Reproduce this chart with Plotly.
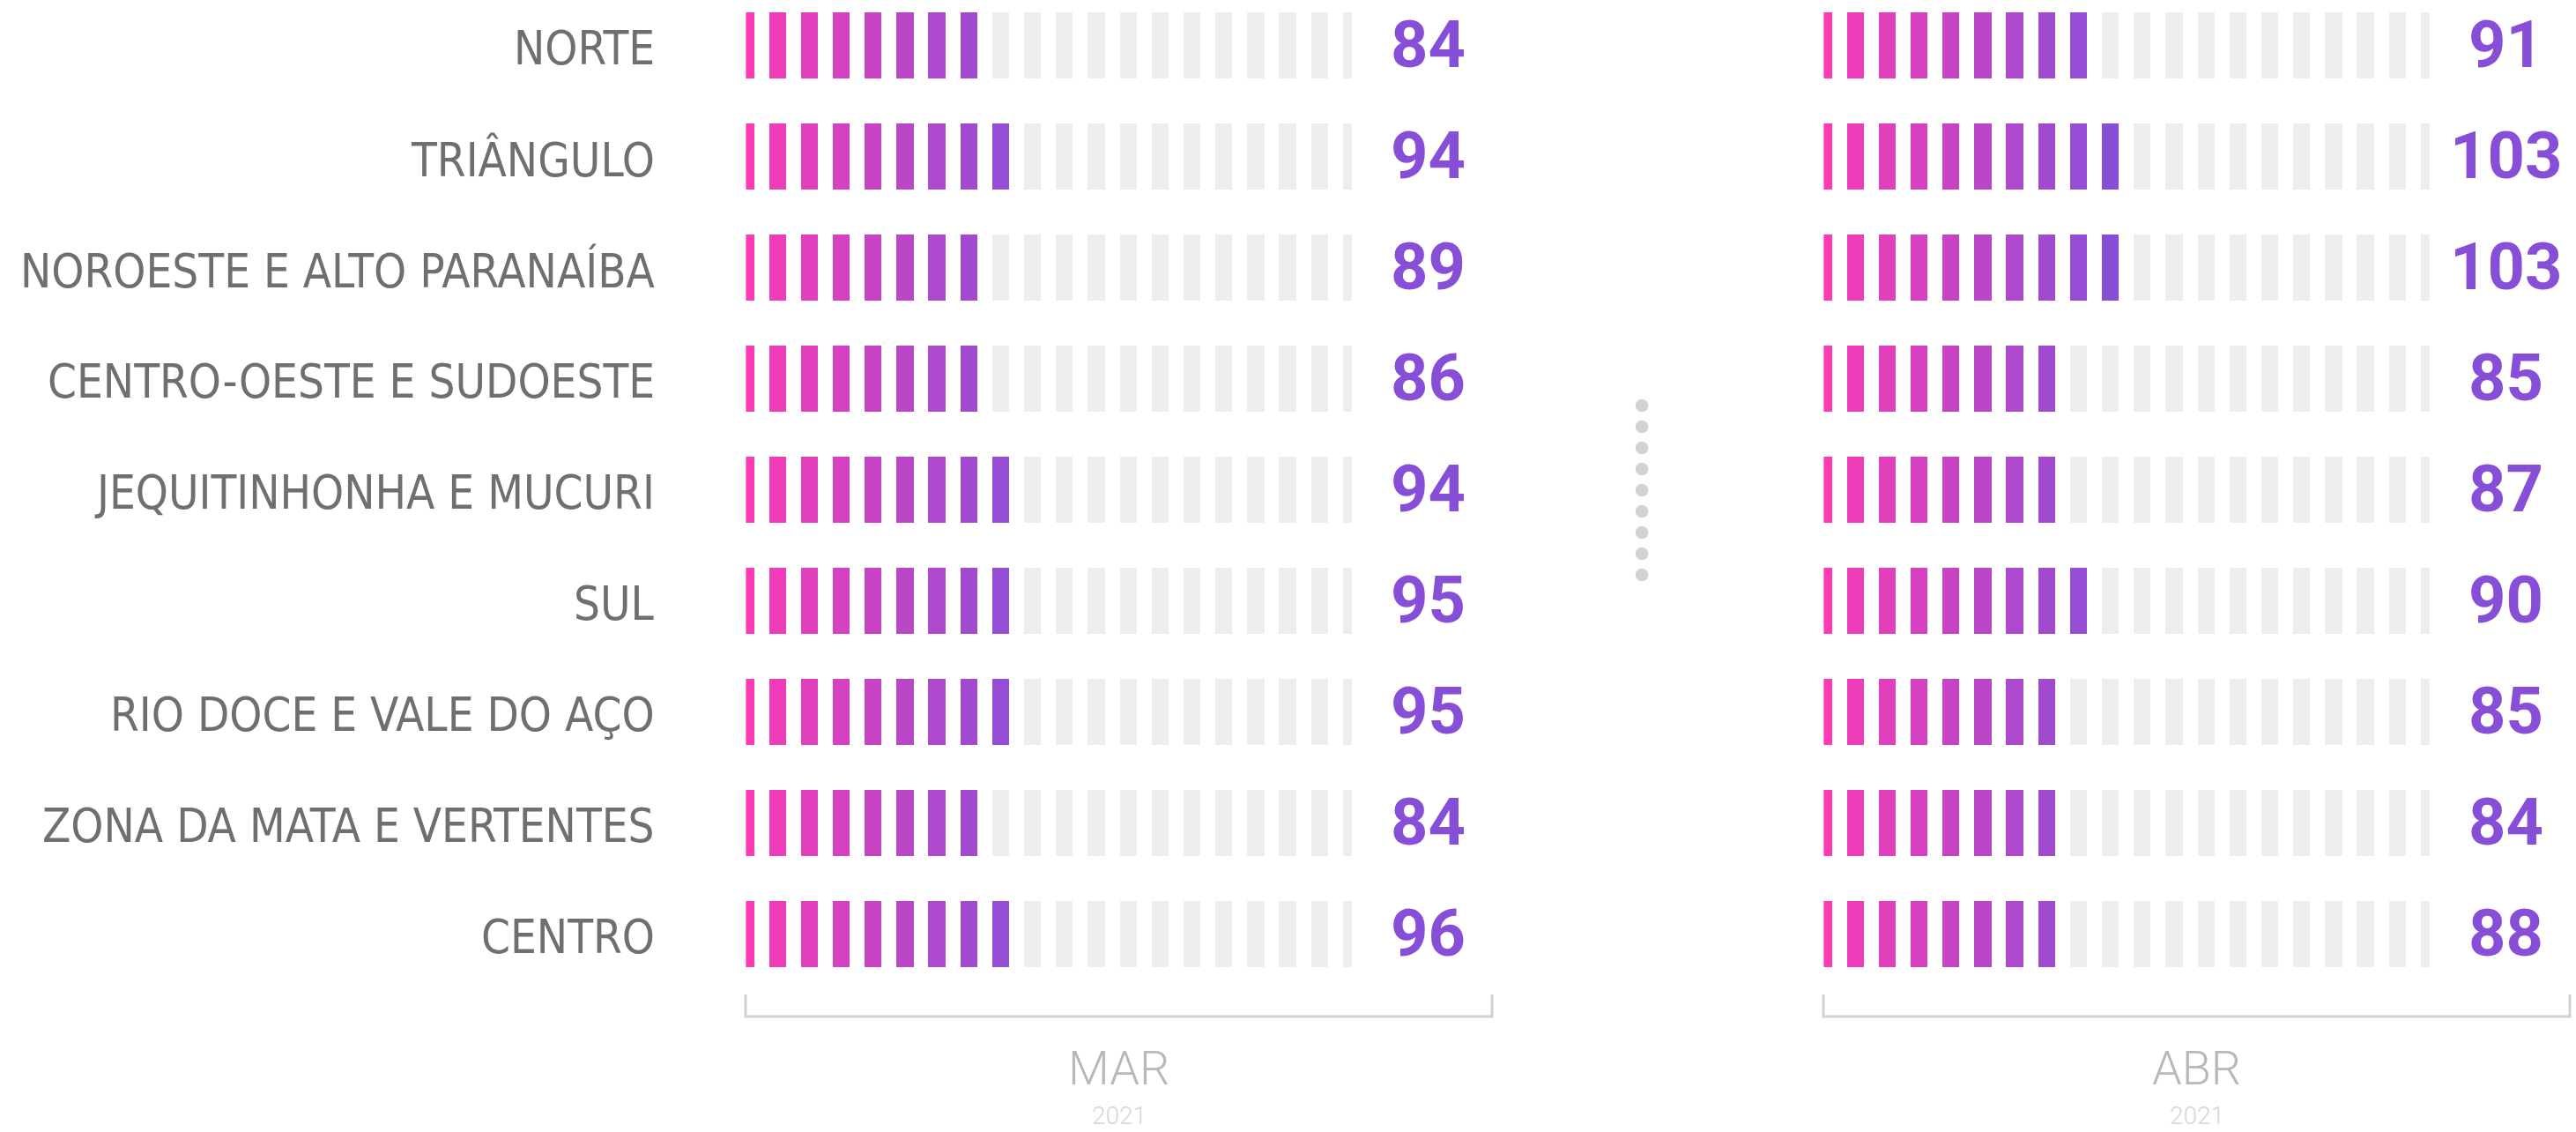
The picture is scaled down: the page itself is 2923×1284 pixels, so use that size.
import plotly.graph_objects as go

# Regional values for two months of 2021
regions = [
    "NORTE",
    "TRIÂNGULO",
    "NOROESTE E ALTO PARANAÍBA",
    "CENTRO-OESTE E SUDOESTE",
    "JEQUITINHONHA E MUCURI",
    "SUL",
    "RIO DOCE E VALE DO AÇO",
    "ZONA DA MATA E VERTENTES",
    "CENTRO",
]
mar_values = [84, 94, 89, 86, 94, 95, 95, 84, 96]
abr_values = [91, 103, 103, 85, 87, 90, 85, 84, 88]
months = ["MAR", "ABR"]
year_label = "2021"

# Pictogram settings: each stripe stands for 10 units
UNIT = 10
N_STRIPES = 20

W, H = 2923, 1284
GREY = "#ECEDEF"
LABEL_GREY = "#6E6E73"
NUM_COLOR = "#874FD7"
START_RGB = (0xFC, 0x3A, 0xB4)
END_RGB = (0x87, 0x4F, 0xD8)


def stripe_color(k, n=10):
    t = min(k, n - 1) / (n - 1)
    r, g, b = (round(a + (b_ - a) * t) for a, b_ in zip(START_RGB, END_RGB))
    return f"rgb({r},{g},{b})"


def px_x(p):
    return p / W


def px_y(p):
    return 1 - p / H


# pixel geometry of the layout
row0, row_step = 51.5, 126.0
bar_h_px = 75.0
pitch_px = 36.18
stripe_w_px = 19.3
panels = [
    dict(x0=846.4, num_x=1620, br=(846, 1693)),
    dict(x0=2069.4, num_x=2843, br=(2069, 2916)),
]
plot_bottom = 1134.0

fig = go.Figure()
annotations = []
shapes = []

y_top = -row0 / row_step
y_bot = (plot_bottom - row0) / row_step
bar_h = bar_h_px / row_step

for p, (values, panel, month) in enumerate(zip([mar_values, abr_values], panels, months)):
    xa = "x" if p == 0 else "x2"
    ya = "y" if p == 0 else "y2"
    xs, ys, bases, colors = [], [], [], []
    for i, v in enumerate(values):
        filled = v // UNIT
        for k in range(N_STRIPES):
            xs.append(k * UNIT)
            ys.append(bar_h)
            bases.append(i - bar_h / 2)
            colors.append(stripe_color(k) if k < filled else GREY)
    fig.add_trace(go.Bar(
        x=xs, y=ys, base=bases,
        width=UNIT * stripe_w_px / pitch_px,
        marker=dict(color=colors, line=dict(width=0)),
        xaxis=xa, yaxis=ya, hoverinfo="skip", showlegend=False,
    ))
    for i, v in enumerate(values):
        annotations.append(dict(
            x=px_x(panel["num_x"]), xref="paper", y=i, yref=ya,
            text=f"<b>{v}</b>", showarrow=False, xanchor="center", yanchor="middle",
            font=dict(family="Roboto, Arial", size=74, color=NUM_COLOR),
            yshift=1,
        ))
    # bracket under each panel
    bx0, bx1 = panel["br"]
    shapes.append(dict(
        type="path", xref="paper", yref="paper",
        path=(f"M {px_x(bx0)} {px_y(1128)} L {px_x(bx0)} {px_y(1153)} "
              f"L {px_x(bx1)} {px_y(1153)} L {px_x(bx1)} {px_y(1128)}"),
        line=dict(color="#D2D2D4", width=3),
    ))
    cx = (bx0 + bx1) / 2
    annotations.append(dict(
        x=px_x(cx), xref="paper", y=px_y(1211), yref="paper", text=month,
        showarrow=False, xanchor="center", yanchor="middle",
        font=dict(family="Roboto", size=54, color="#B8B8BA", weight=300),
    ))
    annotations.append(dict(
        x=px_x(cx), xref="paper", y=px_y(1265), yref="paper", text=year_label,
        showarrow=False, xanchor="center", yanchor="middle",
        font=dict(family="Roboto", size=28, color="#D6D6D8", weight=300),
    ))

# region names
for i, name in enumerate(regions):
    annotations.append(dict(
        x=px_x(745), xref="paper", y=i, yref="y", text=name,
        showarrow=False, xanchor="right", yanchor="middle",
        font=dict(family="Liberation Sans Narrow, DejaVu Sans Condensed, Roboto", size=52.5,
                  color=LABEL_GREY),
        yshift=-3,
    ))

# dotted divider between the panels
for j in range(9):
    cy = 460 + 24 * j
    r = 7.3
    shapes.append(dict(
        type="circle", xref="paper", yref="paper",
        x0=px_x(1863 - r), x1=px_x(1863 + r), y0=px_y(cy + r), y1=px_y(cy - r),
        fillcolor="#D1D2D5", line=dict(width=0),
    ))

axis_common = dict(showgrid=False, zeroline=False, showticklabels=False, showline=False, fixedrange=True)
x_range = [0, (N_STRIPES - 1) * UNIT]
fig.update_layout(
    width=W, height=H,
    margin=dict(l=0, r=0, t=0, b=0),
    paper_bgcolor="white", plot_bgcolor="white",
    barmode="overlay", bargap=0,
    xaxis=dict(domain=[px_x(panels[0]["x0"]), px_x(panels[0]["x0"] + pitch_px * 19)],
               range=x_range, **axis_common),
    xaxis2=dict(domain=[px_x(panels[1]["x0"]), px_x(panels[1]["x0"] + pitch_px * 19)],
                range=x_range, **axis_common),
    yaxis=dict(domain=[px_y(plot_bottom), 1], range=[y_bot, y_top], anchor="x", **axis_common),
    yaxis2=dict(domain=[px_y(plot_bottom), 1], range=[y_bot, y_top], anchor="x2", **axis_common),
    annotations=annotations,
    shapes=shapes,
)

fig.write_html("out.html")
